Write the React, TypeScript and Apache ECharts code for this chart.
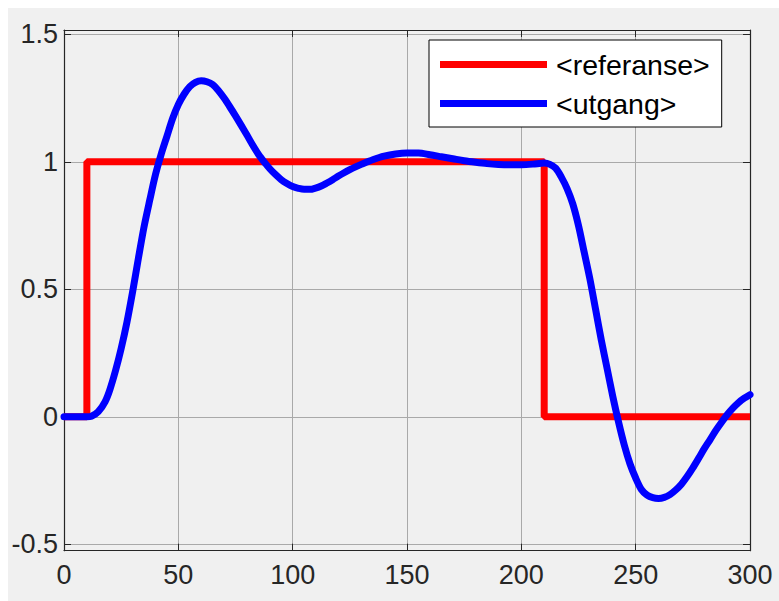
import React, { useEffect, useRef } from "react";
import * as echarts from "echarts";

const refT = [0, 10, 10, 210, 210, 300];
const refV = [0, 0, 1, 1, 0, 0];

const outT = [
  0, 5, 10, 12, 15, 18, 20, 22.5, 25, 27.5, 30, 32.5, 35, 37.5, 40, 42.5, 45, 47.5, 50, 52.5, 55, 57.5, 60,
  62.5, 65, 67.5, 70, 72.5, 75, 77.5, 80, 82.5, 85, 87.5, 90, 92.5, 95, 97.5, 100, 102.5, 105, 107.5, 110,
  112.5, 115, 117.5, 120, 122.5, 125, 127.5, 130, 132.5, 135, 140, 145, 150, 155, 160, 165, 170, 175, 180,
  185, 190, 195, 200, 205, 210, 212.5, 215, 217.5, 220, 222.5, 225, 227.5, 230, 232.5, 235, 237.5, 240,
  242.5, 245, 247.5, 250, 252.5, 255, 257.5, 260, 262.5, 265, 267.5, 270, 272.5, 275, 277.5, 280, 282.5,
  285, 287.5, 290, 292.5, 295, 297.5, 300,
];
const outV = [
  0, 0, 0, 0.002, 0.02, 0.06, 0.105, 0.18, 0.268, 0.37, 0.49, 0.62, 0.745, 0.85, 0.95, 1.03, 1.1, 1.17,
  1.225, 1.265, 1.295, 1.312, 1.318, 1.314, 1.303, 1.28, 1.25, 1.216, 1.18, 1.143, 1.105, 1.066, 1.03, 1.0,
  0.973, 0.95, 0.93, 0.915, 0.903, 0.896, 0.892, 0.892, 0.897, 0.905, 0.917, 0.93, 0.944, 0.957, 0.969,
  0.98, 0.99, 0.999, 1.008, 1.022, 1.031, 1.035, 1.035, 1.028, 1.02, 1.012, 1.004, 0.998, 0.993, 0.99,
  0.989, 0.989, 0.991, 0.995, 0.99, 0.975, 0.94, 0.895, 0.835, 0.75, 0.645, 0.54, 0.42, 0.3, 0.19, 0.08,
  -0.02, -0.11, -0.184, -0.24, -0.285, -0.307, -0.317, -0.32, -0.316, -0.305, -0.287, -0.264, -0.234,
  -0.2, -0.163, -0.125, -0.09, -0.054, -0.022, 0.008, 0.034, 0.056, 0.073, 0.087,
];

const seriesNames = ["<referanse>", "<utgang>"];
const xMin = 0;
const xMax = 300;
const xStep = 50;
const yMin = -0.525;
const yMax = 1.517;

const FONT = "'Liberation Sans', Arial, Helvetica, sans-serif";
const AX = "#262626";
const GRID = "#a9a9a9";

export default function App() {
  const ref = useRef<HTMLDivElement>(null);
  useEffect(() => {
    if (!ref.current) return;
    const chart = echarts.init(ref.current, null, { renderer: "svg" });
    const tickCommon = { show: true, inside: true, length: 7, lineStyle: { color: AX, width: 1 } };
    const lineCommon = { show: true, onZero: false, lineStyle: { color: AX, width: 1.2 } };
    chart.setOption({
      animation: false,
      backgroundColor: "#f0f0f0",
      grid: { left: 56, right: 29, top: 22, bottom: 50.3, containLabel: false },
      legend: {
        orient: "vertical",
        left: 421,
        top: 32,
        data: seriesNames.map((n) => ({ name: n, icon: "rect" })),
        itemWidth: 107,
        itemHeight: 7,
        itemGap: 10,
        padding: [10, 12, 9, 11],
        backgroundColor: "#ffffff",
        borderColor: "#000000",
        borderWidth: 1,
        borderRadius: 0,
        textStyle: {
          fontFamily: FONT,
          fontSize: 28.5,
          lineHeight: 28,
          color: "#000000",
          padding: [0, 0, 0, 4],
        },
      },
      xAxis: [
        {
          type: "value",
          position: "bottom",
          min: xMin,
          max: xMax,
          interval: xStep,
          axisLine: lineCommon,
          axisTick: tickCommon,
          axisLabel: { fontFamily: FONT, fontSize: 27, color: AX, margin: 11 },
          splitLine: { show: true, lineStyle: { color: GRID, width: 1 } },
        },
        {
          type: "value",
          position: "top",
          min: xMin,
          max: xMax,
          interval: xStep,
          axisLine: lineCommon,
          axisTick: tickCommon,
          axisLabel: { show: false },
          splitLine: { show: false },
        },
      ],
      yAxis: [
        {
          type: "value",
          position: "left",
          min: yMin,
          max: yMax,
          splitNumber: 4,
          axisLine: lineCommon,
          axisTick: tickCommon,
          axisLabel: {
            fontFamily: FONT,
            fontSize: 27,
            color: AX,
            margin: 6,
            showMinLabel: false,
            showMaxLabel: false,
          },
          splitLine: { show: true, lineStyle: { color: GRID, width: 1 } },
        },
        {
          type: "value",
          position: "right",
          min: yMin,
          max: yMax,
          splitNumber: 4,
          axisLine: lineCommon,
          axisTick: tickCommon,
          axisLabel: { show: false },
          splitLine: { show: false },
        },
      ],
      series: [
        {
          name: seriesNames[0],
          type: "line",
          data: refT.map((t, i) => [t, refV[i]]),
          showSymbol: false,
          symbol: "none",
          color: "#ff0000",
          lineStyle: { color: "#ff0000", width: 7 },
          xAxisIndex: 0,
          yAxisIndex: 0,
        },
        {
          name: seriesNames[1],
          type: "line",
          data: outT.map((t, i) => [t, outV[i]]),
          showSymbol: false,
          symbol: "none",
          smooth: 0.3,
          color: "#0000ff",
          lineStyle: { color: "#0000ff", width: 7, join: "round", cap: "round" },
          xAxisIndex: 0,
          yAxisIndex: 0,
        },
      ],
    });
    return () => chart.dispose();
  }, []);
  return (
    <div style={{ position: "fixed", left: 8, top: 8, width: 771, height: 593, background: "#f0f0f0" }}>
      <div ref={ref} style={{ width: "100%", height: "100%" }} />
    </div>
  );
}
